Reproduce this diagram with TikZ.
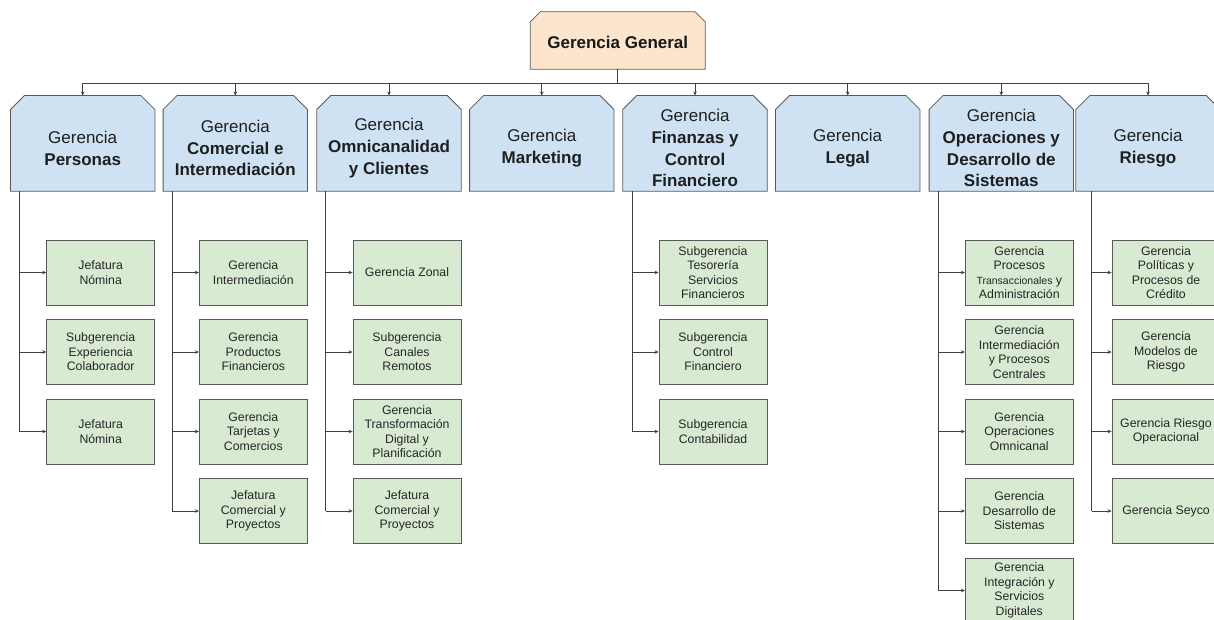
\documentclass[tikz,border=0pt]{standalone}
\usepackage{fontspec}
\setmainfont{Liberation Sans}
\usetikzlibrary{arrows.meta,calc}
\pgfdeclarelayer{back}
\pgfsetlayers{back,main}
\definecolor{topfill}{HTML}{FCE5CD}
\definecolor{bluefill}{HTML}{CFE2F3}
\definecolor{greenfill}{HTML}{D9EAD3}
\definecolor{edgegray}{HTML}{595959}
\definecolor{wiregray}{HTML}{404040}

% outline with the two upper corners cut off, drawn behind a named node
\newcommand\chamferbox[3]{%
  \begin{pgfonlayer}{back}
    \filldraw[fill=#3,draw=edgegray,line width=0.8pt]
      (#1.south west) -- ($(#1.north west)+(0,#2)$) -- ($(#1.north west)+(#2,0)$)
      -- ($(#1.north east)+(-#2,0)$) -- ($(#1.north east)+(0,#2)$)
      -- (#1.south east) -- cycle;
  \end{pgfonlayer}}

\begin{document}
\begin{tikzpicture}[x=1pt,y=-1pt,
  topbox/.style={minimum width=174.5pt,minimum height=57pt,inner sep=0pt},
  areabox/.style={minimum width=144pt,minimum height=95.3pt,inner sep=0pt},
  areatext/.style={align=center,font=\fontsize{17}{21.7}\selectfont,text=black!88},
  unitbox/.style={draw=edgegray,fill=greenfill,line width=0.8pt,minimum width=108pt,
    minimum height=65pt,inner sep=0pt,align=center,text=black!85,
    font=\fontsize{12.3}{14.5}\selectfont},
  wire/.style={draw=wiregray,line width=0.8pt},
  feed/.style={wire,-{Stealth[length=4pt,width=3.6pt]}},
]
\useasboundingbox (0,0) rectangle (1214,619);

% top level
\node[topbox] (gg) at (617.75,40.5) {};
\node[font=\fontsize{17}{20}\selectfont\bfseries,text=black!90] (ggt) at (617.75,42.5) {Gerencia General};
\chamferbox{gg}{10}{topfill}

% second level
\node[areabox] (a1) at (82.7,143.35) {};
\node[areabox] (a2) at (235.3,143.35) {};
\node[areabox] (a3) at (389,143.35) {};
\node[areabox] (a4) at (541.8,143.35) {};
\node[areabox] (a5) at (695,143.35) {};
\node[areabox] (a6) at (847.7,143.35) {};
\node[areabox] (a7) at (1001.3,143.35) {};
\node[areabox] (a8) at (1148,143.35) {};
\foreach \i in {1,...,8} {\chamferbox{a\i}{14}{bluefill}}

\node[areatext] (a1t) at ($(a1.center)+(0,4.8)$) {Gerencia\\\textbf{Personas}};
\node[areatext] (a2t) at ($(a2.center)+(0,4.8)$) {Gerencia\\\textbf{Comercial e}\\\textbf{Intermediación}};
\node[areatext] (a3t) at ($(a3.center)+(0,4.8)$) {Gerencia\\\textbf{Omnicanalidad}\\\textbf{y Clientes}};
\node[areatext] (a4t) at ($(a4.center)+(0,4.8)$) {Gerencia\\\textbf{Marketing}};
\node[areatext] (a5t) at ($(a5.center)+(0,4.8)$) {Gerencia\\\textbf{Finanzas y}\\\textbf{Control}\\\textbf{Financiero}};
\node[areatext] (a6t) at ($(a6.center)+(0,4.8)$) {Gerencia\\\textbf{Legal}};
\node[areatext] (a7t) at ($(a7.center)+(0,4.8)$) {Gerencia\\\textbf{Operaciones y}\\\textbf{Desarrollo de}\\\textbf{Sistemas}};
\node[areatext] (a8t) at ($(a8.center)+(0,4.8)$) {Gerencia\\\textbf{Riesgo}};

% distribution bus
\coordinate (bus) at (0,83);
\draw[wire] (gg.south) -- (gg.south |- bus);
\draw[wire] (a1.north |- bus) -- (a8.north |- bus);
\foreach \i in {1,...,8} {\draw[feed] (a\i.north |- bus) -- (a\i.north);}

% third level: Personas
\node[unitbox] (c11) at (100.7,272.5) {Jefatura\\Nómina};
\node[unitbox] (c12) at (100.7,352) {Subgerencia\\Experiencia\\Colaborador};
\node[unitbox] (c13) at (100.7,431.5) {Jefatura\\Nómina};

% Comercial e Intermediación
\node[unitbox] (c21) at (253.3,272.5) {Gerencia\\Intermediación};
\node[unitbox] (c22) at (253.3,352) {Gerencia\\Productos\\Financieros};
\node[unitbox] (c23) at (253.3,431.5) {Gerencia\\Tarjetas y\\Comercios};
\node[unitbox] (c24) at (253.3,511) {Jefatura\\Comercial y\\Proyectos};

% Omnicanalidad y Clientes
\node[unitbox] (c31) at (407,272.5) {Gerencia Zonal};
\node[unitbox] (c32) at (407,352) {Subgerencia\\Canales\\Remotos};
\node[unitbox] (c33) at (407,431.5) {Gerencia\\Transformación\\Digital y\\Planificación};
\node[unitbox] (c34) at (407,511) {Jefatura\\Comercial y\\Proyectos};

% Finanzas y Control Financiero
\node[unitbox] (c51) at (713,272.5) {Subgerencia\\Tesorería\\Servicios\\Financieros};
\node[unitbox] (c52) at (713,352) {Subgerencia\\Control\\Financiero};
\node[unitbox] (c53) at (713,431.5) {Subgerencia\\Contabilidad};

% Operaciones y Desarrollo de Sistemas
\node[unitbox] (c71) at (1019.3,272.5) {Gerencia\\Procesos\\{\fontsize{10.5}{14.5}\selectfont Transaccionales} y\\Administración};
\node[unitbox] (c72) at (1019.3,352) {Gerencia\\Intermediación\\y Procesos\\Centrales};
\node[unitbox] (c73) at (1019.3,431.5) {Gerencia\\Operaciones\\Omnicanal};
\node[unitbox] (c74) at (1019.3,511) {Gerencia\\Desarrollo de\\Sistemas};
\node[unitbox] (c75) at (1019.3,590.5) {Gerencia\\Integración y\\Servicios\\Digitales};

% Riesgo
\node[unitbox] (c81) at (1166,272.5) {Gerencia\\Políticas y\\Procesos de\\Crédito};
\node[unitbox] (c82) at (1166,352) {Gerencia\\Modelos de\\Riesgo};
\node[unitbox] (c83) at (1166,431.5) {Gerencia Riesgo\\Operacional};
\node[unitbox] (c84) at (1166,511) {Gerencia Seyco};

% trunks running down from each area
\coordinate (t1) at ($(a1.south west)+(9,0)$);
\coordinate (t2) at ($(a2.south west)+(9,0)$);
\coordinate (t3) at ($(a3.south west)+(9,0)$);
\coordinate (t5) at ($(a5.south west)+(10,0)$);
\coordinate (t7) at ($(a7.south west)+(9,0)$);
\coordinate (t8) at ($(a8.south west)+(15.7,0)$);

\foreach \c/\n in {1/3,2/4,3/4,5/3,7/5,8/4} {
  \draw[wire] (t\c) -- (t\c |- c\c\n.west);
  \foreach \r in {1,...,\n} {\draw[feed] (t\c |- c\c\r.west) -- (c\c\r.west);}
}
\end{tikzpicture}
\end{document}
